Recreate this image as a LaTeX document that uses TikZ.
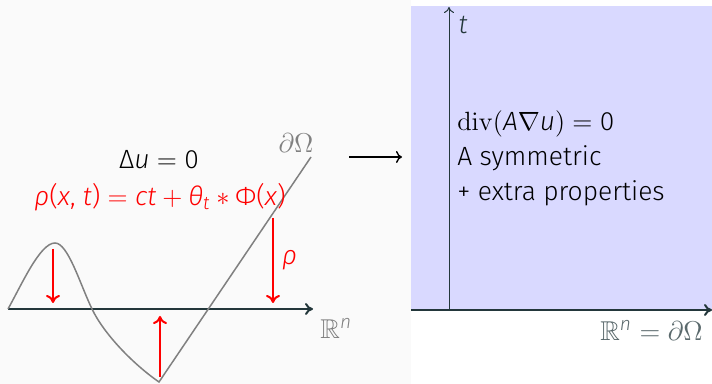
\RequirePackage{fix-cm}
\documentclass[tikz,border=0pt]{standalone}
\usepackage{amsmath}
\usepackage{amssymb}
\usepackage[no-math]{fontspec}
\setmainfont{Fira Sans Light}[ItalicFont={Fira Sans Light Italic}]
\usepackage{tikz}
\usetikzlibrary{arrows.meta, positioning}
\definecolor{darkteal}{HTML}{23373B}
\definecolor{slidebg}{HTML}{FAFAFA}
\definecolor{panelblue}{HTML}{D9D9FF}
\definecolor{curvegray}{HTML}{808080}
\newcommand{\mv}[1]{\textit{#1}}
\tikzset{
  axis/.style={-{To[length=4pt,width=6pt]}, line width=1pt, color=darkteal},
  taxis/.style={-{To[length=3pt,width=5pt]}, line width=0.5pt, color=darkteal},
  boundary/.style={line width=0.75pt, color=curvegray},
  push/.style={-{To[length=4pt,width=7pt]}, line width=1pt, color=red},
  eqtext/.style={font=\fontsize{13.2}{16}\selectfont, inner sep=0pt},
  graylabel/.style={font=\fontsize{13.6}{16}\selectfont, text=curvegray, inner sep=0pt},
}

\begin{document}
\begin{tikzpicture}[x=0.5pt, y=0.5pt]

  \useasboundingbox[fill=slidebg] (0,0) rectangle (712,384);

  % right panel
  \fill[white] (411,0) rectangle (712,384);
  \fill[panelblue] (411,74) rectangle (712,378);

  % left picture
  \coordinate (orig) at (8,75);
  \coordinate (axend) at (313,75);
  \draw[axis] (orig) -- (axend);
  \node[graylabel, anchor=west] (rn) at (320,56) {$\mathbb{R}^{\mv{n}}$};

  \draw[boundary] (orig) .. controls (22,100) and (40,141) .. (55,141)
    .. controls (68,141) and (80,100) .. (92,75)
    .. controls (104,50) and (133,20) .. (159,2) -- (311,227);
  \node[graylabel] (bdry) at (296,241) {$\partial\Omega$};

  \node[eqtext, text=black] (lap) at (159,224) {Δ\mv{u}${}={}$0};
  \node[eqtext, text=red] (rhodef) at (160,187)
    {\mv{ρ}(\mv{x}, \mv{t})${}={}$\mv{ct}${}+{}$\mv{θ}\textsubscript{\mv{t}}${}\ast{}$Φ(\mv{x})};

  \coordinate (p1) at (53,135);
  \coordinate (q1) at (53,81);
  \coordinate (p2) at (160,7);
  \coordinate (q2) at (160,68);
  \coordinate (p3) at (273,166);
  \coordinate (q3) at (273,81);
  \draw[push] (p1) -- (q1);
  \draw[push] (p2) -- (q2);
  \draw[push] (p3) -- node[eqtext, text=red, right=4pt]{\mv{ρ}} (q3);

  % map between the two pictures
  \coordinate (mapfrom) at (349,227);
  \coordinate (mapto) at (402,227);
  \draw[-{To[length=3pt,width=6pt]}, line width=0.7pt] (mapfrom) -- (mapto);

  % half space
  \coordinate (horig) at (411,74);
  \coordinate (hend) at (712,74);
  \coordinate (tfoot) at (449,74);
  \coordinate (ttop) at (449,377);
  \draw[axis] (horig) -- (hend);
  \draw[taxis] (tfoot) -- (ttop);
  \node[eqtext, text=darkteal] (tlab) at (463,359) {\mv{t}};
  \node[graylabel, text=darkteal!75, anchor=east] (bdlab) at (703,54)
    {$\mathbb{R}^{\mv{n}} = \partial\Omega$};
  \node[eqtext, text=black, anchor=west, align=left,
    font=\fontsize{13.2}{17.5}\selectfont] (eqs) at (457,226)
    {$\mathrm{div}(\text{\itshape A}\nabla \text{\itshape u}) ={}$0\\
     A symmetric\\
     + extra properties};

\end{tikzpicture}
\end{document}
